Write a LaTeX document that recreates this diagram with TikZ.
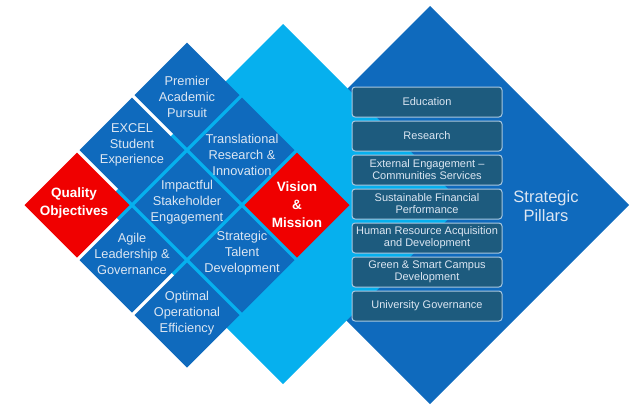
\documentclass[tikz,border=0pt]{standalone}
\usepackage{fontspec}
\setmainfont{Liberation Sans}
\usepackage{tikz}
\usetikzlibrary{shapes.geometric,positioning,calc}
\definecolor{DiaBlue}{HTML}{0F6ABD}
\definecolor{SkyBlue}{HTML}{06B0EE}
\definecolor{DiaRed}{HTML}{F00000}
\definecolor{BoxTeal}{HTML}{1D5B7E}
\definecolor{BoxEdge}{HTML}{A9C8E0}
\definecolor{PaleText}{HTML}{DCE6F2}
\tikzstyle{bigdia} = [diamond, aspect=1, inner sep=0pt, outer sep=0pt]
\tikzstyle{cell} = [diamond, aspect=1, inner sep=0pt, outer sep=0pt,
minimum width=105pt, minimum height=105pt, fill=DiaBlue]
\tikzstyle{redcell} = [cell, fill=DiaRed]
\tikzstyle{celltext} = [align=center, text=PaleText, inner sep=0pt,
font=\fontsize{12.8}{15.7}\selectfont]
\tikzstyle{redtext} = [align=center, text=white, inner sep=0pt,
font=\fontsize{13.5}{18}\selectfont\bfseries]
\tikzstyle{pillar} = [rectangle, rounded corners=3pt, draw=BoxEdge, line width=1pt,
fill=BoxTeal, text=PaleText, align=center, minimum width=150pt, minimum height=30pt,
inner sep=0pt, font=\fontsize{11}{12}\selectfont]

\begin{document}
\begin{tikzpicture}[x=1pt, y=-1pt]
            \useasboundingbox (0,0) rectangle (642,405);
            % back diamonds
            \node[bigdia, fill=DiaBlue, minimum width=398pt, minimum height=398pt] (pillars) at (430,205) {};
            \node[bigdia, fill=SkyBlue, minimum width=360pt, minimum height=360pt] (vision) at (283,204) {};
            % 3x3 grid of objectives
            \node[cell] (premier) at (187,95) {};
            \node[cell] (excel) at (132,150) {};
            \node[cell] (transl) at (242,150) {};
            \node[redcell] (quality) at (77,205) {};
            \node[cell] (impact) at (187,205) {};
            \node[redcell] (mission) at (297,205) {};
            \node[cell] (agile) at (132,260) {};
            \node[cell] (talent) at (242,260) {};
            \node[cell] (optimal) at (187,315) {};
            \node[celltext] (premiert) at ([yshift=-2pt]premier.center) {Premier\\Academic\\Pursuit};
            \node[celltext] (excelt) at ([yshift=5pt]excel.center) {EXCEL\\Student\\Experience};
            \node[celltext] (translt) at ([yshift=-5pt]transl.center) {Translational\\Research \&\\Innovation};
            \node[celltext] (impactt) at ([yshift=3pt]impact.center) {Impactful\\Stakeholder\\Engagement};
            \node[celltext] (agilet) at ([yshift=6pt]agile.center) {Agile\\Leadership \&\\Governance};
            \node[celltext] (talentt) at ([yshift=7pt]talent.center) {Strategic\\Talent\\Development};
            \node[celltext] (optimalt) at ([yshift=2pt]optimal.center) {Optimal\\Operational\\Efficiency};
            \node[redtext] (qualityt) at ([xshift=-3pt, yshift=2pt]quality.center) {Quality\\Objectives};
            \node[redtext] (missiont) at (mission.center) {Vision\\\&\\Mission};
            % strategic pillars
            \node[pillar] (edu) at (427,102) {Education};
            \node[pillar] (res) at (427,136) {Research};
            \node[pillar] (ext) at (427,170) {External Engagement --\\Communities Services};
            \node[pillar] (fin) at (427,204) {Sustainable Financial\\Performance};
            \node[pillar] (hr) at (427,238) {Human Resource Acquisition\\and Development};
            \node[pillar] (green) at (427,272) {Green \& Smart Campus\\Development};
            \node[pillar] (gov) at (427,306) {University Governance};
            \node[align=center, text=PaleText, font=\fontsize{16.5}{19}\selectfont] (pillarst) at (546,206) {Strategic\\Pillars};
        \end{tikzpicture}
\end{document}
